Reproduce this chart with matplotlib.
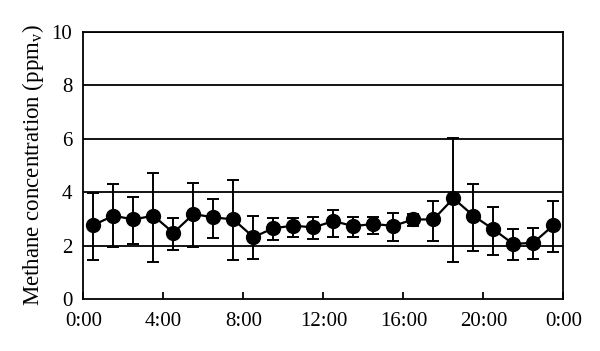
import matplotlib
matplotlib.use("Agg")
import matplotlib.pyplot as plt
import numpy as np

hours = [0.5, 1.5, 2.5, 3.5, 4.5, 5.5, 6.5, 7.5, 8.5, 9.5, 10.5, 11.5,
         12.5, 13.5, 14.5, 15.5, 16.5, 17.5, 18.5, 19.5, 20.5, 21.5, 22.5, 23.5]
methane = [2.77, 3.12, 2.98, 3.12, 2.48, 3.18, 3.06, 2.98, 2.32, 2.65, 2.75, 2.68,
           2.92, 2.73, 2.81, 2.74, 2.98, 2.98, 3.77, 3.12, 2.61, 2.06, 2.11, 2.76]
err_upper = [3.96, 4.30, 3.81, 4.71, 3.02, 4.34, 3.76, 4.44, 3.12, 3.03, 3.02, 3.07,
             3.33, 3.07, 3.07, 3.22, 3.18, 3.67, 6.03, 4.30, 3.43, 2.61, 2.65, 3.67]
err_lower = [1.46, 1.94, 2.07, 1.39, 1.84, 1.96, 2.28, 1.46, 1.50, 2.20, 2.32, 2.24,
             2.33, 2.32, 2.45, 2.18, 2.72, 2.18, 1.39, 1.81, 1.65, 1.45, 1.50, 1.76]
xtick_pos = [0, 4, 8, 12, 16, 20, 24]
xtick_labels = ["0:00", "4:00", "8:00", "12:00", "16:00", "20:00", "0:00"]
ytick_pos = [0, 2, 4, 6, 8, 10]

plt.rcParams['font.family'] = ['Liberation Serif', 'DejaVu Serif']

fig = plt.figure(figsize=(6.0, 3.51), dpi=100)
ax = fig.add_axes([0.139, 0.148, 0.8, 0.761])

m = np.array(methane)
yerr = [m - np.array(err_lower), np.array(err_upper) - m]

for yv in ytick_pos[1:]:
    ax.axhline(yv, color='black', linewidth=1.3, zorder=1)

ax.errorbar(hours, methane, yerr=yerr, fmt='o-', color='black',
            markersize=10, linewidth=1.6, elinewidth=1.4, capsize=4,
            capthick=1.4, zorder=3)

ax.set_xlim(0, 24)
ax.set_ylim(0, 10)
ax.set_xticks(xtick_pos)
ax.set_xticklabels(xtick_labels)
ax.set_yticks(ytick_pos)
ax.tick_params(axis='x', direction='in', length=5, width=1.3, labelsize=15, pad=9)
ax.tick_params(axis='y', direction='in', length=0, labelsize=15, pad=8)
for s in ax.spines.values():
    s.set_linewidth(1.3)
ax.set_ylabel(r"Methane concentration (ppm$_\mathregular{v}$)", fontsize=16.5, labelpad=4)

fig.savefig("out.png", dpi=100)
